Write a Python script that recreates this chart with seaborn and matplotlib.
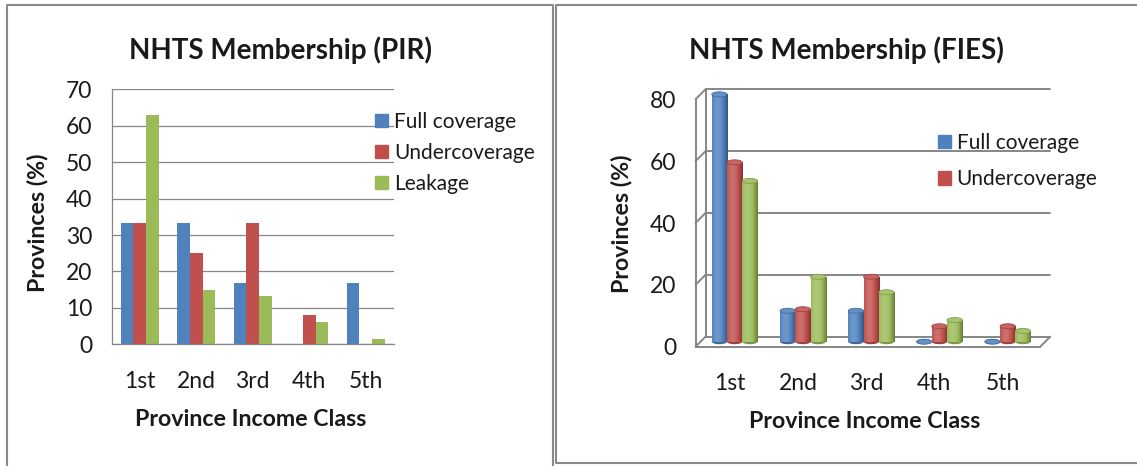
import numpy as np
import pandas as pd
import matplotlib
matplotlib.use("Agg")
import matplotlib.pyplot as plt
from matplotlib.patches import Patch, Ellipse
from matplotlib.lines import Line2D
import seaborn as sns


classes = ["1st", "2nd", "3rd", "4th", "5th"]
series = ["Full coverage", "Undercoverage", "Leakage"]
colors = ["#4F81BD", "#C0504D", "#9BBB59"]

# PIR panel (percent of provinces)
pir_full = [33.3, 33.3, 16.7, 0.0, 16.7]
pir_under = [33.3, 25.0, 33.3, 8.0, 0.0]
pir_leak = [63.0, 15.0, 13.3, 6.0, 1.4]

# FIES panel (percent of provinces)
fies_full = [80.0, 10.0, 10.0, 0.0, 0.0]
fies_under = [58.0, 10.5, 21.0, 5.0, 5.0]
fies_leak = [52.0, 21.0, 16.0, 7.0, 3.5]

pir_ticks = list(range(0, 71, 10))
fies_ticks = list(range(0, 81, 20))

W, H, DPI = 1137, 466, 100
GRID = "#868686"
TXT = "#1a1a1a"
TICK_FS = 16.5
LEG_FS = 15
TITLE_FS = 20
LABEL_FS = 16.7


def long_table(full, under, leak):
    return pd.DataFrame({
        "cls": classes * 3,
        "series": np.repeat(series, len(classes)),
        "val": full + under + leak,
    })


def fig_box(x0, y_top, x1, y_bottom):
    # pixel box (origin top-left) -> figure fraction rect
    return [x0 / W, 1 - y_bottom / H, (x1 - x0) / W, (y_bottom - y_top) / H]


def mix(c, other, t):
    c = np.asarray(matplotlib.colors.to_rgb(c))
    return tuple(c * (1 - t) + np.asarray(other) * t)


sns.set_style("white")
plt.rcParams["font.family"] = ["Lato", "DejaVu Sans"]

fig = plt.figure(figsize=(W / DPI, H / DPI), dpi=DPI)

# ---------------- left panel: flat clustered bars ----------------
ax1 = fig.add_axes(fig_box(111.5, 89.3, 394, 344.3))
sns.barplot(data=long_table(pir_full, pir_under, pir_leak), x="cls", y="val",
            hue="series", palette=colors, saturation=1, width=0.67, gap=0,
            linewidth=0, legend=False, ax=ax1)
ax1.set_xlim(-0.5, 4.5)
ax1.set_ylim(0, 70)
ax1.set_yticks(pir_ticks)
ax1.set_xticks(range(len(classes)), classes)
ax1.set_xticks(np.arange(-0.5, 5, 1), minor=True)
ax1.yaxis.grid(True, color=GRID, lw=0.9)
ax1.set_axisbelow(True)
for side in ["top", "right"]:
    ax1.spines[side].set_visible(False)
for side in ["left", "bottom"]:
    ax1.spines[side].set_color(GRID)
    ax1.spines[side].set_linewidth(0.9)
ax1.tick_params(axis="y", length=6, width=0.9, color=GRID, pad=8,
                labelsize=TICK_FS, labelcolor=TXT)
ax1.tick_params(axis="x", which="major", length=0, pad=19,
                labelsize=TICK_FS, labelcolor=TXT)
ax1.tick_params(axis="x", which="minor", length=6, width=0.9, color=GRID)
ax1.set_xlabel("Province Income Class", fontsize=LABEL_FS, fontweight="bold", color=TXT)
ax1.set_ylabel("Provinces (%)", fontsize=LABEL_FS, fontweight="bold", color=TXT)
ax1.xaxis.label.set_va("center")
ax1.yaxis.label.set_va("center")
ax1.xaxis.set_label_coords((251 - 111.5) / 282.5, (344.3 - 420) / 255)
ax1.yaxis.set_label_coords((38 - 111.5) / 282.5, (344.3 - 223) / 255)
ax1.legend(handles=[Patch(color=c, label=s) for c, s in zip(colors, series)],
           loc="upper left", bbox_to_anchor=(375 / W, 1 - 112 / H),
           bbox_transform=fig.transFigure, frameon=False, fontsize=LEG_FS,
           handlelength=0.6, handleheight=0.6, handletextpad=0.3,
           labelspacing=0.52, borderpad=0, borderaxespad=0, labelcolor=TXT)
fig.text(280.5 / W, 1 - 50 / H, "NHTS Membership (PIR)", ha="center", va="center",
         fontsize=TITLE_FS, fontweight="bold", color=TXT)

# ---------------- right panel: pseudo 3D cylinders ----------------
FX0, FX1, FY0 = 695.5, 1036.8, 346.7
px_per_unit = (346.7 - 99.3) / 80
ytop = 84
ax2 = fig.add_axes(fig_box(FX0, FY0 - ytop * px_per_unit, FX1, FY0))
sns.barplot(data=long_table(fies_full, fies_under, fies_leak), x="cls", y="val",
            hue="series", palette=colors, saturation=1, width=0.67, gap=0,
            linewidth=0, legend=False, ax=ax2)
ax2.set_xlim(-0.5, 4.5)
ax2.set_ylim(0, ytop)
for s in ax2.spines.values():
    s.set_visible(False)
ax2.set_yticks(fies_ticks)
ax2.set_xticks(range(len(classes)), classes)
ax2.set_xticks(np.arange(-0.5, 5, 1), minor=True)
ax2.tick_params(axis="y", length=6, width=1.3, color=GRID, pad=8,
                labelsize=TICK_FS, labelcolor=TXT)
ax2.tick_params(axis="x", which="major", length=0, pad=19,
                labelsize=TICK_FS, labelcolor=TXT)
ax2.tick_params(axis="x", which="minor", length=6, width=1.3, color=GRID)

# depth offsets: pixels -> data units
ux = (FX1 - FX0) / 5.0
uy = px_per_unit
back_dx, back_dy = 10 / ux, 10 / uy
mid_dx, mid_dy = back_dx / 2, back_dy / 2

wall = dict(color=GRID, lw=1.4, clip_on=False, zorder=1)
for v in fies_ticks:
    ax2.plot([-0.5 + back_dx, 4.5 + back_dx + 0.05], [v + back_dy, v + back_dy], **wall)
    ax2.plot([-0.5, -0.5 + back_dx], [v, v + back_dy], **wall)
ax2.plot([-0.5 + back_dx] * 2, [back_dy, fies_ticks[-1] + back_dy], **wall)
ax2.plot([-0.5, -0.5], [0, fies_ticks[-1]], **wall)
ax2.plot([-0.5, 4.55], [0, 0], **wall)
ax2.plot([4.55, 4.55 + back_dx], [0, back_dy], **wall)

cap_h = 5 / uy
for bar in list(ax2.patches):
    x0, w, h = bar.get_x() + mid_dx, bar.get_width(), bar.get_height()
    y0 = mid_dy
    base = bar.get_facecolor()[:3]
    bar.set_x(x0)
    bar.set_y(y0)
    bar.set_zorder(2)
    t = np.linspace(0, 1, 64)
    f = 0.8 + 0.38 * np.cos((t - 0.35) * np.pi * 0.95)
    strip = np.array([mix(base, (1, 1, 1), fi - 1) if fi > 1 else mix(base, (0, 0, 0), 1 - fi)
                      for fi in f])
    if h > 0:
        ax2.imshow(strip[np.newaxis, :, :], extent=(x0, x0 + w, y0, y0 + h),
                   aspect="auto", origin="lower", interpolation="bilinear",
                   zorder=3, clip_on=False)
    ax2.add_patch(Ellipse((x0 + w / 2, y0), w, cap_h, facecolor=mix(base, (0, 0, 0), 0.2),
                          edgecolor="none", zorder=2.5, clip_on=False))
    ax2.add_patch(Ellipse((x0 + w / 2, y0 + h), w, cap_h, facecolor=mix(base, (1, 1, 1), 0.12),
                          edgecolor=mix(base, (0, 0, 0), 0.15), lw=0.6, zorder=4, clip_on=False))
ax2.set_xlim(-0.5, 4.5)
ax2.set_ylim(0, ytop)

ax2.set_xlabel("Province Income Class", fontsize=LABEL_FS, fontweight="bold", color=TXT)
ax2.set_ylabel("Provinces (%)", fontsize=LABEL_FS, fontweight="bold", color=TXT)
ax2.xaxis.label.set_va("center")
ax2.yaxis.label.set_va("center")
pw, ph = FX1 - FX0, ytop * px_per_unit
ax2.xaxis.set_label_coords((864.5 - FX0) / pw, (FY0 - 421.7) / ph)
ax2.yaxis.set_label_coords((621.7 - FX0) / pw, (FY0 - 223.5) / ph)
ax2.legend(handles=[Patch(color=c, label=s) for c, s in zip(colors[:2], series[:2])],
           loc="upper left", bbox_to_anchor=(938 / W, 1 - 133 / H),
           bbox_transform=fig.transFigure, frameon=False, fontsize=LEG_FS,
           handlelength=0.6, handleheight=0.6, handletextpad=0.3,
           labelspacing=0.79, borderpad=0, borderaxespad=0, labelcolor=TXT)
fig.text(846.5 / W, 1 - 50 / H, "NHTS Membership (FIES)", ha="center", va="center",
         fontsize=TITLE_FS, fontweight="bold", color=TXT)

# ---------------- panel frames ----------------
for xs, ys in [([7, 7, 552.5, 552.5], [470, 5, 5, 470]),
               ([1140, 556, 556, 1140], [5, 5, 463, 463])]:
    fig.add_artist(Line2D([x / W for x in xs], [1 - y / H for y in ys],
                          transform=fig.transFigure, color="#8a8a8a", lw=1.5))

fig.savefig("out.png", dpi=DPI)
